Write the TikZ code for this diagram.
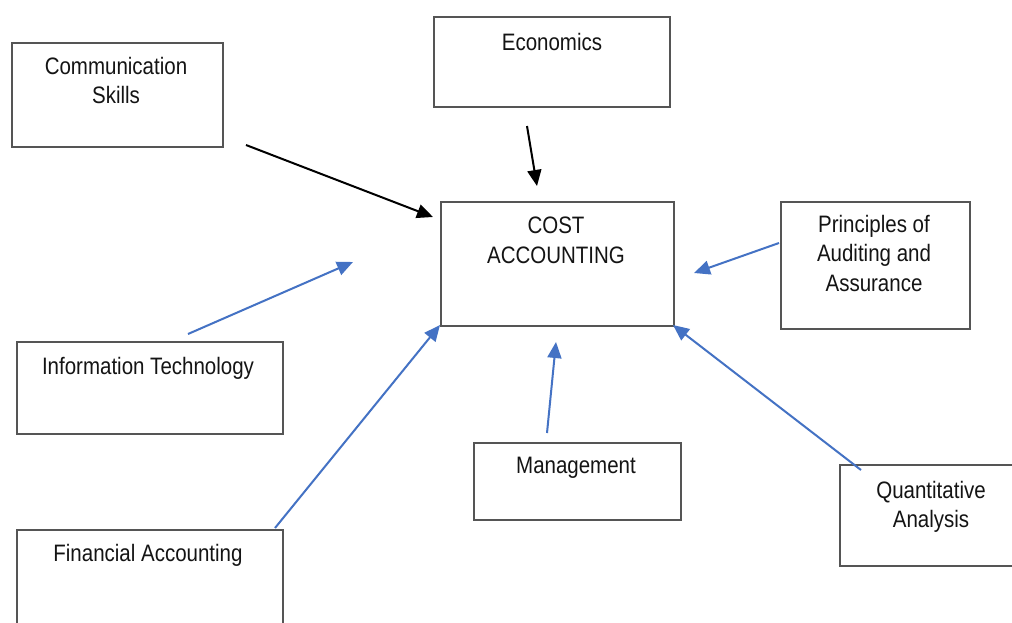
\documentclass[tikz,border=0pt]{standalone}
\usepackage{fontspec}
\setmainfont{Liberation Sans}
\usetikzlibrary{arrows.meta}
\definecolor{arrblue}{HTML}{4472C4}
\definecolor{boxgray}{HTML}{555555}
\definecolor{txt}{HTML}{141414}
\newcommand{\vs}[1]{\scalebox{1}[1.16]{#1}}
\tikzset{
  box/.style={draw=boxgray, line width=1.6pt, anchor=north west, inner sep=0pt},
  lbl/.style={anchor=north, inner sep=0pt, align=center, text=txt, font=\fontsize{20.5}{29.5}\selectfont},
  arrk/.style={line width=2pt, draw=black, -{Triangle[length=16pt,width=14pt]}},
  arrb/.style={line width=2pt, draw=arrblue, -{Triangle[length=16pt,width=14pt]}, color=arrblue}
}
\begin{document}
\begin{tikzpicture}[x=1pt,y=-1pt]
\clip (0,0) rectangle (1012,622);
\fill[white] (0,0) rectangle (1012,622);
% boxes
\node[box, minimum width=211pt, minimum height=104pt] (comm) at (11,42) {};
\node[box, minimum width=236pt, minimum height=90pt] (econ) at (433,16) {};
\node[box, minimum width=233pt, minimum height=124pt] (cost) at (440,201) {};
\node[box, minimum width=189pt, minimum height=127pt] (prin) at (780,201) {};
\node[box, minimum width=266pt, minimum height=92pt] (it) at (16,341) {};
\node[box, minimum width=207pt, minimum height=77pt] (mgmt) at (473,442) {};
\node[box, minimum width=200pt, minimum height=101pt] (quant) at (839,464) {};
\node[box, minimum width=266pt, minimum height=110pt] (fin) at (16,529) {};
% labels
\node[lbl] (commT) at (116,57) {\vs{Communication}\\\vs{Skills}};
\node[lbl] (econT) at (552,33) {\vs{Economics}};
\node[lbl] (costT) at (556,217) {\vs{COST}\\\vs{ACCOUNTING}};
\node[lbl] (prinT) at (874,215) {\vs{Principles of}\\\vs{Auditing and}\\\vs{Assurance}};
\node[lbl] (itT) at (148,357) {\vs{Information Technology}};
\node[lbl] (mgmtT) at (576,457) {\vs{Management}};
\node[lbl] (quantT) at (931,481) {\vs{Quantitative}\\\vs{Analysis}};
\node[lbl] (finT) at (148,544) {\vs{Financial Accounting}};
% arrow ends
\coordinate (a1s) at (246,145); \coordinate (a1e) at (433,217);
\coordinate (a2s) at (527,126); \coordinate (a2e) at (537,186);
\coordinate (a3s) at (188,334); \coordinate (a3e) at (353,262);
\coordinate (a4s) at (779,243); \coordinate (a4e) at (694,273);
\coordinate (a5s) at (547,433); \coordinate (a5e) at (556,342);
\coordinate (a6s) at (275,528); \coordinate (a6e) at (440,325);
\coordinate (a7s) at (861,470); \coordinate (a7e) at (673,325);
\draw[arrk] (a1s) -- (a1e);
\draw[arrk] (a2s) -- (a2e);
\draw[arrb] (a3s) -- (a3e);
\draw[arrb] (a4s) -- (a4e);
\draw[arrb] (a5s) -- (a5e);
\draw[arrb] (a6s) -- (a6e);
\draw[arrb] (a7s) -- (a7e);
\end{tikzpicture}
\end{document}
